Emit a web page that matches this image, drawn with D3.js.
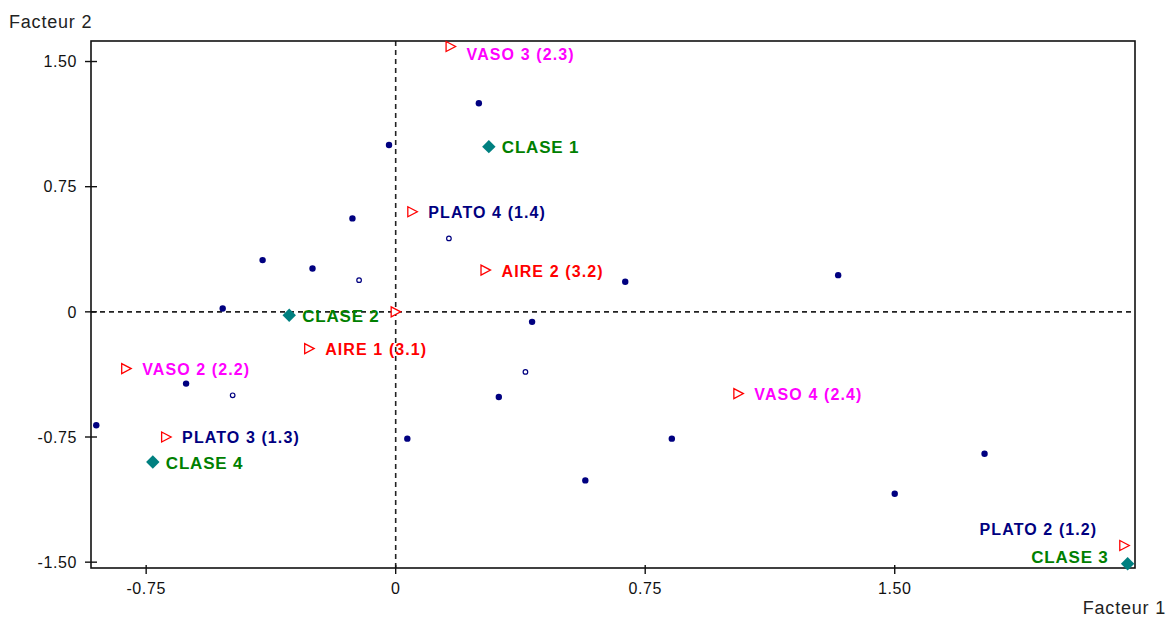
<!DOCTYPE html>
<html>
<head>
<meta charset="utf-8">
<script src="https://cdn.jsdelivr.net/npm/d3@7"></script>
<style>
  body { margin: 0; background: #fff; }
  text { font-family: "Liberation Sans", Arial, sans-serif; }
  .tick-label { font-size: 16px; fill: #111; letter-spacing: 0.6px; }
  .axis-title { font-size: 18px; fill: #222; letter-spacing: 0.8px; }
  .pt-label { font-size: 16px; font-weight: bold; letter-spacing: 1.1px; }
  .class-label { font-size: 17px; letter-spacing: 0.8px; }
</style>
</head>
<body>
<div id="main"></div>
<script>
// Data
// active individuals (filled dots)
var dotX = [-0.02, 0.25, -0.13, -0.40, -0.25, -0.52, -0.90, -0.63, 0.035, 0.41, 0.31, 0.57, 0.83, 0.69, 1.33, 1.77, 1.50];
var dotY = [1.00, 1.25, 0.56, 0.31, 0.26, 0.02, -0.68, -0.43, -0.76, -0.06, -0.51, -1.01, -0.76, 0.18, 0.22, -0.85, -1.09];

// supplementary individuals (open dots)
var openX = [0.16, -0.11, -0.49, 0.39];
var openY = [0.44, 0.19, -0.50, -0.36];

// modalities (triangles)
var modLabels = ['VASO 3 (2.3)', 'PLATO 4 (1.4)', 'AIRE 2 (3.2)', '', 'AIRE 1 (3.1)', 'VASO 2 (2.2)', 'PLATO 3 (1.3)', 'VASO 4 (2.4)', 'PLATO 2 (1.2)'];
var modGroup = ['VASO', 'PLATO', 'AIRE', 'AIRE', 'AIRE', 'VASO', 'PLATO', 'VASO', 'PLATO'];
var modX = [0.165, 0.05, 0.27, 0.0, -0.26, -0.81, -0.69, 1.03, 2.19];
var modY = [1.59, 0.60, 0.25, 0.0, -0.22, -0.34, -0.75, -0.49, -1.40];

// classes (diamonds)
var classLabels = ['CLASE 1', 'CLASE 2', 'CLASE 3', 'CLASE 4'];
var classX = [0.28, -0.32, 2.20, -0.73];
var classY = [0.99, -0.02, -1.51, -0.90];

var xTicks = [-0.75, 0, 0.75, 1.50];
var yTicks = [-1.50, -0.75, 0, 0.75, 1.50];

// Layout
var svgWidth = 1173;
var svgHeight = 617;
var plot = { l: 91, t: 41, r: 1135, b: 568 };

var groupColor = {
  'VASO': '#ff00ff',
  'PLATO': '#000080',
  'AIRE': '#ff0000',
  'CLASE': '#008000'
};

// labels that would run past the right edge sit on the left instead
var leftLabels = { 'PLATO 2 (1.2)': -17, 'CLASE 3': -8 };

var svg = d3.select('#main')
  .append('svg')
  .attr('width', svgWidth)
  .attr('height', svgHeight);

var xScale = d3.scaleLinear()
  .domain([-0.9158, 2.2222])
  .range([plot.l, plot.r]);

var yScale = d3.scaleLinear()
  .domain([-1.535, 1.623])
  .range([plot.b, plot.t]);

var fmt = function (d) { return d === 0 ? '0' : d.toFixed(2); };

// dashed zero lines
svg.append('line')
  .attr('x1', plot.l).attr('x2', plot.r)
  .attr('y1', yScale(0)).attr('y2', yScale(0))
  .attr('stroke', '#222').attr('stroke-width', 1.6)
  .attr('stroke-dasharray', '5,4');

svg.append('line')
  .attr('x1', xScale(0)).attr('x2', xScale(0))
  .attr('y1', plot.t).attr('y2', plot.b)
  .attr('stroke', '#222').attr('stroke-width', 1.6)
  .attr('stroke-dasharray', '5,4');

// frame
svg.append('rect')
  .attr('x', plot.l).attr('y', plot.t)
  .attr('width', plot.r - plot.l).attr('height', plot.b - plot.t)
  .attr('fill', 'none').attr('stroke', '#111').attr('stroke-width', 1.6);

// y ticks
svg.selectAll('.ytick')
  .data(yTicks)
  .enter()
  .append('line')
  .attr('x1', plot.l - 6).attr('x2', plot.l + 6)
  .attr('y1', (d) => yScale(d)).attr('y2', (d) => yScale(d))
  .attr('stroke', '#111').attr('stroke-width', 1.4);

svg.selectAll('.ylab')
  .data(yTicks)
  .enter()
  .append('text')
  .attr('class', 'tick-label')
  .attr('x', 77)
  .attr('y', (d) => yScale(d))
  .attr('dy', '0.36em')
  .attr('text-anchor', 'end')
  .text(fmt);

// x ticks
svg.selectAll('.xtick')
  .data(xTicks)
  .enter()
  .append('line')
  .attr('x1', (d) => xScale(d)).attr('x2', (d) => xScale(d))
  .attr('y1', plot.b - 3).attr('y2', plot.b + 6)
  .attr('stroke', '#111').attr('stroke-width', 1.4);

svg.selectAll('.xlab')
  .data(xTicks)
  .enter()
  .append('text')
  .attr('class', 'tick-label')
  .attr('x', (d) => xScale(d))
  .attr('y', 594)
  .attr('text-anchor', 'middle')
  .text(fmt);

// axis titles
svg.append('text')
  .attr('class', 'axis-title')
  .attr('x', 9).attr('y', 28)
  .text('Facteur 2');

svg.append('text')
  .attr('class', 'axis-title')
  .attr('x', 1166).attr('y', 614)
  .attr('text-anchor', 'end')
  .text('Facteur 1');

// active individuals
svg.selectAll('.dot')
  .data(d3.range(dotX.length))
  .enter()
  .append('circle')
  .attr('cx', (i) => xScale(dotX[i]))
  .attr('cy', (i) => yScale(dotY[i]))
  .attr('r', 3.2)
  .attr('fill', '#000080');

// supplementary individuals
svg.selectAll('.open')
  .data(d3.range(openX.length))
  .enter()
  .append('circle')
  .attr('cx', (i) => xScale(openX[i]))
  .attr('cy', (i) => yScale(openY[i]))
  .attr('r', 2.3)
  .attr('fill', '#fff')
  .attr('stroke', '#000080')
  .attr('stroke-width', 1.2);

// place a label next to its marker, keeping it inside the frame
function addLabel(name, color, px, py, gap, cls) {
  if (!name) return;
  var t = svg.append('text')
    .attr('class', 'pt-label ' + (cls || ''))
    .attr('fill', color)
    .attr('dy', '0.4em')
    .text(name);
  if (name in leftLabels) {
    t.attr('text-anchor', 'end')
      .attr('x', px - (name.indexOf('CLASE') === 0 ? 19 : 27))
      .attr('y', py + leftLabels[name]);
  } else {
    var y = Math.max(py, plot.t + 13);
    t.attr('x', px + gap).attr('y', y);
  }
}

// modality triangles
d3.range(modX.length).forEach(function (i) {
  var px = xScale(modX[i]), py = yScale(modY[i]);
  svg.append('path')
    .attr('d', 'M' + (px - 4.5) + ',' + (py - 5) + 'L' + (px + 5) + ',' + py + 'L' + (px - 4.5) + ',' + (py + 5) + 'Z')
    .attr('fill', '#fff')
    .attr('stroke', '#ff0000')
    .attr('stroke-width', 1.3);
  addLabel(modLabels[i], groupColor[modGroup[i]], px, py, 16);
});

// class diamonds
d3.range(classX.length).forEach(function (i) {
  var px = xScale(classX[i]), py = yScale(classY[i]);
  svg.append('path')
    .attr('d', d3.symbol().type(d3.symbolDiamond2).size(115)())
    .attr('transform', 'translate(' + [px, py] + ')')
    .attr('fill', '#008080');
  addLabel(classLabels[i], groupColor['CLASE'], px, py, 13, 'class-label');
});
</script>
</body>
</html>
